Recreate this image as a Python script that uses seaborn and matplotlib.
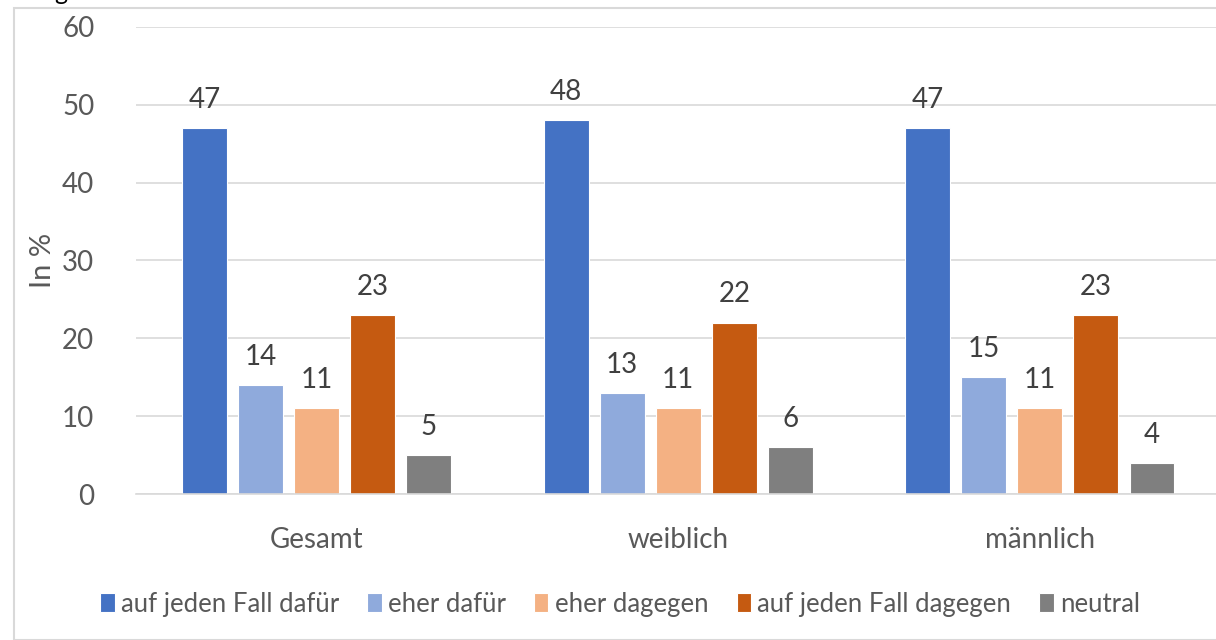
import pandas as pd
import matplotlib
matplotlib.use("Agg")
import matplotlib.pyplot as plt
from matplotlib.patches import Rectangle
import seaborn as sns

# Daten
gruppen = ["Gesamt", "weiblich", "männlich"]
antworten = ["auf jeden Fall dafür", "eher dafür", "eher dagegen",
             "auf jeden Fall dagegen", "neutral"]
werte = {
    "auf jeden Fall dafür": [47, 48, 47],
    "eher dafür": [14, 13, 15],
    "eher dagegen": [11, 11, 11],
    "auf jeden Fall dagegen": [23, 22, 23],
    "neutral": [5, 6, 4],
}
farben = ["#4472C4", "#8FAADC", "#F4B183", "#C55A11", "#7F7F7F"]

rows = []
for a in antworten:
    for g, v in zip(gruppen, werte[a]):
        rows.append({"Gruppe": g, "Antwort": a, "Wert": v})
df = pd.DataFrame(rows)

sns.set_style("white")
plt.rcParams["font.family"] = ["Lato", "DejaVu Sans"]

fig = plt.figure(figsize=(12.16, 6.4), dpi=100)
ax = fig.add_axes([0.1118, 0.228, 0.892, 0.730])

sns.barplot(data=df, x="Gruppe", y="Wert", hue="Antwort", order=gruppen,
            hue_order=antworten, palette=farben, width=0.775, gap=0.2,
            saturation=1, edgecolor="white", linewidth=0.8,
            ax=ax, legend=True)

for cont in ax.containers:
    ax.bar_label(cont, padding=11, fontsize=20, color="#404040")

ax.set_ylim(0, 60)
ax.set_yticks(range(0, 61, 10))
ax.yaxis.grid(True, color="#D9D9D9", linewidth=1.2)
ax.set_axisbelow(True)
for s in ["top", "right", "left"]:
    ax.spines[s].set_visible(False)
ax.spines["bottom"].set_color("#D9D9D9")
ax.spines["bottom"].set_linewidth(1.2)
ax.tick_params(axis="both", length=0, labelsize=20, colors="#595959")
ax.tick_params(axis="x", pad=24)
ax.tick_params(axis="y", pad=30)
ax.set_xlabel("")
ax.set_ylabel("In %", fontsize=21, color="#595959", labelpad=4)

h, l = ax.get_legend_handles_labels()
ax.legend_.remove()
fig.legend(h, l, loc="center", bbox_to_anchor=(0.51, 0.056), ncol=5,
           frameon=False, fontsize=18.5, labelcolor="#595959",
           handlelength=0.55, handleheight=0.75, handletextpad=0.25,
           columnspacing=1.1)

# Rahmen des Diagramms
fig.patches.append(Rectangle((14 / 1216, 0), 1.1, (640 - 8) / 640,
                             transform=fig.transFigure, fill=False,
                             edgecolor="#D9D9D9", linewidth=1.5))
fig.text(0.045, 1.012, "g", fontsize=18, color="black", va="center")

fig.savefig("out.png", dpi=100)
